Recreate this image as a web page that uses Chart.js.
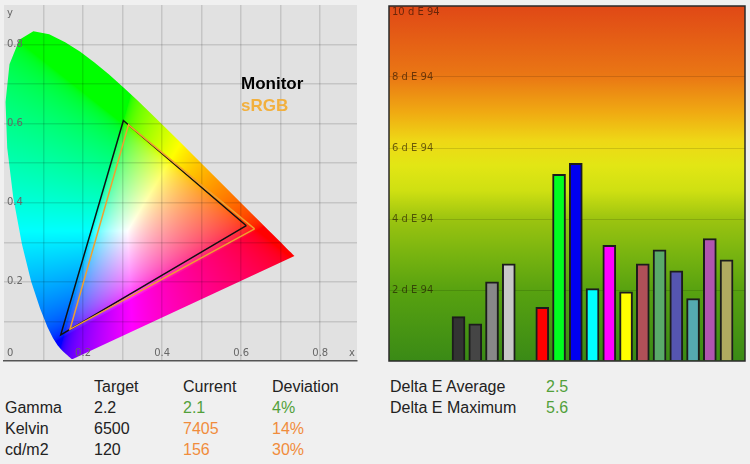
<!DOCTYPE html>
<html>
<head>
<meta charset="utf-8">
<script src="https://cdn.jsdelivr.net/npm/chart.js@4.4.0/dist/chart.umd.min.js"></script>
<style>
body { margin: 0; background: #f0f0f0; width: 750px; height: 464px; overflow: hidden; position: relative;
	font-family: "Liberation Sans", Arial, sans-serif; }
#cie { position: absolute; left: 0; top: 0; }
#de { position: absolute; left: 385px; top: 0; }
.t { position: absolute; font-size: 16px; line-height: 21px; color: #222; white-space: nowrap; }
.g { color: #52a03a; }
.o { color: #f08c3c; }
.leg { position: absolute; left: 241px; font-weight: bold; font-size: 17px; line-height: 20px; }
</style>
</head>
<body>
<canvas id="cie" width="370" height="370"></canvas>
<canvas id="de" width="365" height="370"></canvas>

<div class="leg" style="top:74px;color:#000">Monitor</div>
<div class="leg" style="top:96px;color:#f2b03e">sRGB</div>

<div class="t" style="left:94px;top:376px">Target</div>
<div class="t" style="left:183px;top:376px">Current</div>
<div class="t" style="left:272px;top:376px">Deviation</div>
<div class="t" style="left:5px;top:397px">Gamma</div>
<div class="t" style="left:94px;top:397px">2.2</div>
<div class="t g" style="left:183px;top:397px">2.1</div>
<div class="t g" style="left:272px;top:397px">4%</div>
<div class="t" style="left:5px;top:418px">Kelvin</div>
<div class="t" style="left:94px;top:418px">6500</div>
<div class="t o" style="left:183px;top:418px">7405</div>
<div class="t o" style="left:272px;top:418px">14%</div>
<div class="t" style="left:5px;top:439px">cd/m2</div>
<div class="t" style="left:94px;top:439px">120</div>
<div class="t o" style="left:183px;top:439px">156</div>
<div class="t o" style="left:272px;top:439px">30%</div>

<div class="t" style="left:390px;top:376px">Delta E Average</div>
<div class="t g" style="left:546px;top:376px">2.5</div>
<div class="t" style="left:390px;top:397px">Delta E Maximum</div>
<div class="t g" style="left:546px;top:397px">5.6</div>

<script>
// CIE 1931 spectral locus, 380-700 nm
var locusX = [0.1741, 0.1740, 0.1738, 0.1736, 0.1733, 0.1730, 0.1726, 0.1721, 0.1714, 0.1703, 0.1689, 0.1669,
	0.1644, 0.1611, 0.1566, 0.1510, 0.1440, 0.1355, 0.1241, 0.1096, 0.0913, 0.0687, 0.0454, 0.0235, 0.0082,
	0.0039, 0.0139, 0.0389, 0.0743, 0.1142, 0.1547, 0.1929, 0.2296, 0.2658, 0.3016, 0.3373, 0.3731, 0.4087,
	0.4441, 0.4788, 0.5125, 0.5448, 0.5752, 0.6029, 0.6270, 0.6482, 0.6658, 0.6801, 0.6915, 0.7006, 0.7079,
	0.7140, 0.7190, 0.7230, 0.7260, 0.7300, 0.7320, 0.7334, 0.7347];
var locusY = [0.0050, 0.0050, 0.0049, 0.0049, 0.0048, 0.0048, 0.0048, 0.0048, 0.0051, 0.0058, 0.0069, 0.0086,
	0.0109, 0.0138, 0.0177, 0.0227, 0.0297, 0.0399, 0.0578, 0.0868, 0.1327, 0.2007, 0.2950, 0.4127, 0.5384,
	0.6548, 0.7502, 0.8120, 0.8338, 0.8262, 0.8059, 0.7816, 0.7543, 0.7243, 0.6923, 0.6589, 0.6245, 0.5896,
	0.5547, 0.5202, 0.4866, 0.4544, 0.4242, 0.3965, 0.3725, 0.3514, 0.3340, 0.3197, 0.3083, 0.2993, 0.2920,
	0.2859, 0.2809, 0.2770, 0.2740, 0.2700, 0.2680, 0.2666, 0.2653];

// gamut triangles (red, green, blue corners)
var monitorX = [0.613, 0.302, 0.1435];
var monitorY = [0.342, 0.608, 0.066];
var srgbX = [0.634, 0.315, 0.167];
var srgbY = [0.334, 0.597, 0.080];

var cieGrid = [0.1, 0.2, 0.3, 0.4, 0.5, 0.6, 0.7, 0.8];
var cieLabels = [0.2, 0.4, 0.6, 0.8];
var cieMaxX = 0.893;
var cieMaxY = 0.9;

// delta E patches
var patches = ['Gray 1', 'Gray 2', 'Gray 3', 'Gray 4', '', 'Red', 'Green', 'Blue', 'Cyan', 'Magenta', 'Yellow',
	'Skin red', 'Foliage', 'Blue sky', 'Teal', 'Purple', 'Olive'];
var deltaE = [1.25, 1.05, 2.23, 2.74, null, 1.51, 5.26, 5.57, 2.04, 3.26, 1.95, 2.74, 3.13, 2.54, 1.76, 3.45, 2.85];
var patchColors = ['#333333', '#454545', '#888888', '#c8c8c8', '#000000', '#ff0000', '#00ff20', '#0000f0',
	'#00ffff', '#ff00ff', '#ffff00', '#b05058', '#5aaa6a', '#5555b0', '#55aab0', '#b055b0', '#b0aa60'];
var deTicks = [2, 4, 6, 8, 10];

function triangle(xs, ys) {
	var pts = xs.map(function(x, i) { return {x: x, y: ys[i]}; });
	pts.push(pts[0]);
	return pts;
}

function toSrgb(c) {
	c = c <= 0.0031308 ? 12.92 * c : 1.055 * Math.pow(c, 1 / 2.4) - 0.055;
	return Math.round(Math.max(0, Math.min(1, c)) * 255);
}

function noPad(axis) {
	axis.paddingTop = 0; axis.paddingBottom = 0;
	axis.paddingLeft = 0; axis.paddingRight = 0;
}

// gray panel plus the chromaticity colours inside the spectral locus
var cieFill = {
	id: 'cieFill',
	beforeDraw: function(chart) {
		var a = chart.chartArea, xs = chart.scales.x, ys = chart.scales.y, ctx = chart.ctx;
		ctx.save();
		ctx.fillStyle = '#e1e1e1';
		ctx.fillRect(a.left, a.top, a.right - a.left, a.bottom - a.top);
		ctx.restore();

		var w = Math.round(a.right - a.left), h = Math.round(a.bottom - a.top);
		var off = document.createElement('canvas');
		off.width = w; off.height = h;
		var octx = off.getContext('2d');
		var img = octx.createImageData(w, h);
		for (var j = 0; j < h; j++) {
			var cy = ys.getValueForPixel(a.top + j + 0.5);
			if (cy <= 0.001) continue;
			for (var i = 0; i < w; i++) {
				var cx = xs.getValueForPixel(a.left + i + 0.5);
				var X = cx / cy, Z = (1 - cx - cy) / cy;
				var r = Math.max(0, 3.2406 * X - 1.5372 - 0.4986 * Z);
				var g = Math.max(0, -0.9689 * X + 1.8758 + 0.0415 * Z);
				var b = Math.max(0, 0.0557 * X - 0.2040 + 1.0570 * Z);
				var m = Math.max(r, g, b);
				if (m <= 0) continue;
				var k = (j * w + i) * 4;
				img.data[k] = toSrgb(r / m);
				img.data[k + 1] = toSrgb(g / m);
				img.data[k + 2] = toSrgb(b / m);
				img.data[k + 3] = 255;
			}
		}
		octx.putImageData(img, 0, 0);
		ctx.save();
		ctx.beginPath();
		locusX.forEach(function(x, n) {
			var px = xs.getPixelForValue(x), py = ys.getPixelForValue(locusY[n]);
			if (n === 0) ctx.moveTo(px, py); else ctx.lineTo(px, py);
		});
		ctx.closePath();
		ctx.clip();
		ctx.drawImage(off, a.left, a.top);
		ctx.restore();
	},
	afterDraw: function(chart) {
		// x tick labels sit inside the plot, just above the axis line
		var a = chart.chartArea, xs = chart.scales.x, ctx = chart.ctx;
		ctx.save();
		ctx.fillStyle = '#666666';
		ctx.font = '10px "DejaVu Sans"';
		ctx.textBaseline = 'middle';
		ctx.textAlign = 'left';
		ctx.fillText('0', xs.getPixelForValue(0) + 3, a.bottom - 8);
		ctx.textAlign = 'center';
		cieLabels.forEach(function(v) {
			ctx.fillText(String(v), xs.getPixelForValue(v), a.bottom - 8);
		});
		ctx.textAlign = 'right';
		ctx.fillText('x', xs.getPixelForValue(cieMaxX) - 2, a.bottom - 8);
		ctx.restore();
	}
};

new Chart(document.getElementById('cie'), {
	type: 'scatter',
	data: {
		datasets: [
			{
				label: 'sRGB',
				data: triangle(srgbX, srgbY),
				showLine: true,
				borderColor: '#f0a030',
				borderWidth: 1.5,
				pointRadius: 0
			},
			{
				label: 'Monitor',
				data: triangle(monitorX, monitorY),
				showLine: true,
				borderColor: '#111111',
				borderWidth: 1.5,
				pointRadius: 0
			}
		]
	},
	options: {
		responsive: false,
		animation: false,
		layout: {padding: {left: 4, top: 5, right: 13, bottom: 9}},
		plugins: {legend: {display: false}, tooltip: {enabled: false}},
		scales: {
			x: {
				type: 'linear',
				min: 0,
				max: cieMaxX,
				afterBuildTicks: function(axis) {
					axis.ticks = cieGrid.map(function(v) { return {value: v}; });
				},
				afterFit: function(axis) { axis.height = 0; noPad(axis); },
				grid: {drawTicks: false, lineWidth: 1.5, color: 'rgba(0,0,0,0.12)'},
				border: {display: true, color: '#555555', width: 1.5},
				ticks: {display: false}
			},
			y: {
				type: 'linear',
				min: 0,
				max: cieMaxY,
				afterBuildTicks: function(axis) {
					axis.ticks = cieGrid.concat([cieMaxY]).map(function(v) { return {value: v}; });
				},
				afterFit: function(axis) { axis.width = 0; noPad(axis); },
				grid: {
					drawTicks: false,
					lineWidth: 1.5,
					color: function(c) { return c.tick.value === cieMaxY ? 'rgba(0,0,0,0)' : 'rgba(0,0,0,0.12)'; }
				},
				border: {display: false},
				ticks: {
					mirror: true,
					padding: 3,
					color: '#666666',
					font: {family: 'DejaVu Sans', size: 10, lineHeight: 1.6},
					callback: function(v) {
						if (v === cieMaxY) return ['', 'y'];
						return cieLabels.indexOf(v) >= 0 ? String(v) : '';
					}
				}
			}
		}
	},
	plugins: [cieFill]
});

// gradient backdrop and frame for the delta E chart
var deBack = {
	id: 'deBack',
	beforeDraw: function(chart) {
		var a = chart.chartArea, ctx = chart.ctx;
		var grad = ctx.createLinearGradient(0, a.top, 0, a.bottom);
		grad.addColorStop(0.0, '#e04816');
		grad.addColorStop(0.2, '#ea7814');
		grad.addColorStop(0.3, '#f0aa12');
		grad.addColorStop(0.38, '#eed816');
		grad.addColorStop(0.45, '#e2e614');
		grad.addColorStop(0.52, '#cfe012');
		grad.addColorStop(0.6, '#9cc410');
		grad.addColorStop(0.7, '#78b410');
		grad.addColorStop(0.8, '#58a210');
		grad.addColorStop(1.0, '#3a8a16');
		ctx.save();
		ctx.fillStyle = grad;
		ctx.fillRect(a.left, a.top, a.right - a.left, a.bottom - a.top);
		ctx.restore();
	},
	afterDraw: function(chart) {
		var a = chart.chartArea, ctx = chart.ctx;
		ctx.save();
		ctx.strokeStyle = '#2a2a2a';
		ctx.lineWidth = 1.5;
		ctx.strokeRect(a.left, a.top, a.right - a.left, a.bottom - a.top);
		ctx.restore();
	}
};

new Chart(document.getElementById('de'), {
	type: 'bar',
	data: {
		labels: patches,
		datasets: [{
			data: deltaE.map(function(v, i) { return {x: i, y: v}; }),
			backgroundColor: patchColors,
			borderColor: '#1c1c1c',
			borderWidth: 2,
			borderSkipped: 'start',
			barThickness: 13
		}]
	},
	options: {
		responsive: false,
		animation: false,
		layout: {padding: {left: 4, top: 6, right: 5, bottom: 9}},
		plugins: {legend: {display: false}, tooltip: {enabled: false}},
		scales: {
			x: {
				type: 'linear',
				min: -4.15,
				max: 17.1,
				offset: false,
				display: false
			},
			y: {
				min: 0,
				max: 10,
				afterBuildTicks: function(axis) {
					axis.ticks = [0].concat(deTicks).map(function(v) { return {value: v}; });
				},
				afterFit: function(axis) { axis.width = 0; noPad(axis); },
				grid: {
					drawTicks: false,
					color: function(c) { return (c.tick.value === 0 || c.tick.value === 10) ? 'rgba(0,0,0,0)' : 'rgba(0,0,0,0.13)'; }
				},
				border: {display: false},
				ticks: {
					mirror: true,
					padding: 3,
					color: 'rgba(30,15,0,0.62)',
					font: {family: 'DejaVu Sans', size: 10, lineHeight: 1.2},
					callback: function(v) {
						if (v === 0) return '';
						if (v === 10) return ['', v + ' d E 94'];
						return v + ' d E 94';
					}
				}
			}
		}
	},
	plugins: [deBack]
});
</script>
</body>
</html>
